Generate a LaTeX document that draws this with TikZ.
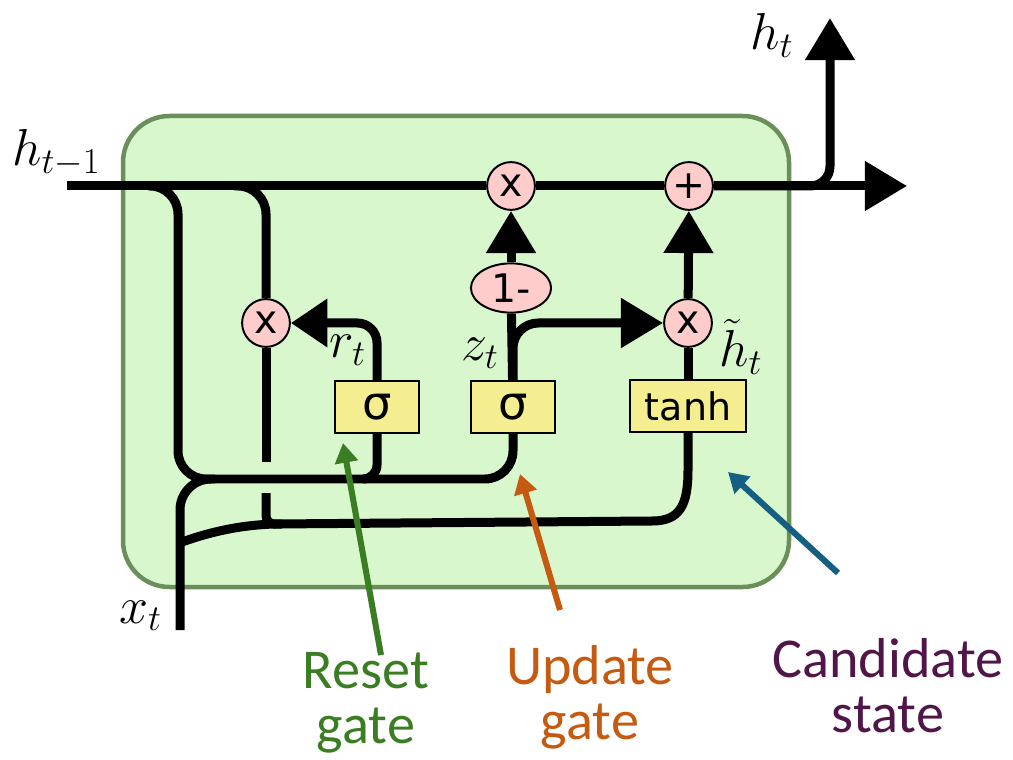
\RequirePackage{fix-cm}
\documentclass[tikz,border=0pt]{standalone}
\usepackage{fontspec}
\usetikzlibrary{arrows.meta,shapes.geometric}
\newfontfamily\gatefont{DejaVu Sans}
\newfontfamily\notefont{Carlito}
\definecolor{cellfill}{HTML}{D9F7CC}
\definecolor{celledge}{HTML}{6A8F5A}
\definecolor{opfill}{HTML}{FFCCCC}
\definecolor{layerfill}{HTML}{F5EE91}
\definecolor{resetcol}{HTML}{3B7D23}
\definecolor{updatecol}{HTML}{C55A11}
\definecolor{candcol}{HTML}{156082}
\definecolor{candtext}{HTML}{501549}
\tikzset{
  op/.style={circle, draw, fill=opfill, line width=1.4pt, minimum size=34pt, inner sep=0pt, font=\gatefont\fontsize{28}{28}\selectfont},
  layer/.style={draw, fill=layerfill, line width=1.6pt, minimum height=37pt, inner sep=0pt},
  wire/.style={line width=6.4pt},
  flow/.style={wire, -{Triangle[length=30pt,width=34pt]}},
  note/.style={line width=4.3pt, -{Triangle[length=14pt,width=16pt]}},
  notelabel/.style={align=center, inner sep=0pt, anchor=north, font=\notefont\fontsize{40}{39}\selectfont},
  mathlabel/.style={inner sep=0pt, anchor=base west, font=\fontsize{37}{37}\selectfont}
}
\begin{document}
\begin{tikzpicture}[x=0.025cm, y=-0.025cm]
\useasboundingbox (0,0) rectangle (1013,760);
% cell
\draw[line width=3.2pt, draw=celledge, fill=cellfill, rounded corners=33pt] (123,116) rectangle (789,587);

% operators and layers
\node[op] (mult) at (511,186) {x};
\node[op] (plus) at (689,186) {+};
\node[op] (rmult) at (266,323) {x};
\node[op] (cmult) at (688,323) {x};
\node[op, ellipse, minimum width=57pt, minimum height=35pt] (onem) at (511,288) {1-};
\node[layer, minimum width=60pt, font=\gatefont\fontsize{33}{33}\selectfont] (rsig) at (377,407) {σ};
\node[layer, minimum width=60pt, font=\gatefont\fontsize{33}{33}\selectfont] (zsig) at (513,407) {σ};
\node[layer, minimum width=83pt, font=\gatefont\fontsize{27}{27}\selectfont] (tanhl) at (688,406) {tanh};

\coordinate (hin) at (67,186);
\coordinate (hout) at (907,186);
\coordinate (hup) at (830,18);
\coordinate (xin) at (180,630);
\coordinate (tap1) at (148,186);
\coordinate (tap2) at (234,186);

% state line
\draw[wire] (hin) -- (mult);
\draw[wire] (mult) -- (plus);
\draw[flow] (plus) -- (hout);
\draw[flow, rounded corners=14pt] (plus) -| (hup);

% h_{t-1} into the gates
\draw[wire, rounded corners=20pt] (tap1) -| (178,479) -| (zsig.south);
\draw[wire, rounded corners=10pt] (rsig.south) |- (366,479);
\draw[wire, rounded corners=20pt] (tap2) -| (rmult);
\draw[wire] (rmult) -- (266,462);
\draw[wire, rounded corners=6pt] (266,493) |- (282,524);

% x_t
\draw[wire, rounded corners=22pt] (xin) |- (215,479);
\draw[wire] (182,542) .. controls (210,532) and (240,525) .. (275,524) -- (652,521) .. controls (680,521) and (688,505) .. (688,470) -- (tanhl.south);

% gate outputs
\draw[wire, -{Triangle[length=26pt,width=33pt]}, rounded corners=14pt] (rsig) |- (rmult);
\draw[wire] (zsig) -- (onem);
\draw[flow] (onem) -- (mult);
\draw[flow, rounded corners=18pt] (zsig.north) |- (cmult);
\draw[wire] (tanhl) -- (cmult);
\draw[flow] (cmult) -- (plus);

% labels
\node[mathlabel] (hprevlbl) at (12,166) {$h_{t-1}$};
\node[mathlabel] (houtlbl) at (750,50) {$h_t$};
\node[mathlabel] (rlbl) at (329,358) {$r_t$};
\node[mathlabel] (zlbl) at (461,361) {$z_t$};
\node[mathlabel] (hcandlbl) at (719,367) {$\tilde{h}_t$};
\node[mathlabel] (xlbl) at (119,623) {$x_t$};

% notes
\node[notelabel, text=resetcol] (resetlbl) at (366,652) {Reset\\gate};
\node[notelabel, text=updatecol] (updatelbl) at (590,645) {Update\\gate};
\node[notelabel, text=candtext] (candlbl) at (888,638) {Candidate\\state};
\coordinate (resettail) at (381,655);
\coordinate (resettip) at (343,443);
\coordinate (updatetail) at (560,610);
\coordinate (updatetip) at (520,474);
\coordinate (candtail) at (838,573);
\coordinate (candtip) at (728,472);
\draw[note, resetcol] (resettail) -- (resettip);
\draw[note, updatecol] (updatetail) -- (updatetip);
\draw[note, candcol] (candtail) -- (candtip);
\end{tikzpicture}
\end{document}
